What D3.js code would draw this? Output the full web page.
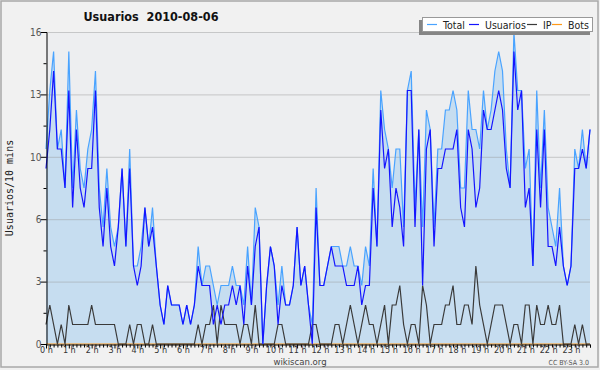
<!DOCTYPE html>
<html>
<head>
<meta charset="utf-8">
<script src="https://cdn.jsdelivr.net/npm/d3@7"></script>
<style>
  body { margin: 0; background: #f0f0f0; }
  text { font-family: "DejaVu Sans Condensed", "Liberation Sans", sans-serif; }
</style>
</head>
<body>
<svg id="chart" width="600" height="370"></svg>
<script>
// 10 minute slots, 144 per day
var total = [10,13,15,10,11,8,15,8,12,9,8,10,11,14,8,6,9,6,5,6,9,5,10,4,4,5,7,5,7,4,
  2,1,3,2,2,2,1,2,1,2,5,3,4,4,3,2,3,3,3,4,3,3,2,5,2,7,6,0,3,5,
  4,2,4,2,2,3,6,3,4,2,1,8,3,3,4,5,5,5,4,4,5,4,4,3,5,4,9,5,13,11,
  10,8,10,10,6,13,14,7,11,6,12,11,6,10,10,12,12,13,12,8,8,13,11,11,10,13,11,12,14,15,
  14,10,8,16,13,13,9,10,4,13,8,12,7,6,5,8,4,3,4,10,9,11,9,11];
var usuarios = [9,11,14,10,10,8,13,7,11,8,7,9,9,13,7,5,8,5,4,6,9,5,9,4,3,4,7,5,6,4,
  2,1,3,2,2,2,1,2,1,2,4,3,3,3,1,2,1,2,2,3,2,3,1,4,2,5,6,0,3,5,
  4,1,3,2,2,3,6,3,4,2,0,7,3,3,4,5,4,4,4,3,3,3,4,2,3,3,8,5,12,9,
  10,6,8,7,5,13,13,6,11,3,10,11,5,9,9,10,10,10,11,7,6,11,10,7,8,12,11,11,12,13,
  12,9,8,15,12,13,7,8,4,11,7,11,5,5,4,6,4,3,4,9,9,10,9,11];
var ip = [1,2,1,0,1,0,2,1,1,1,1,1,2,1,1,1,1,1,1,0,0,0,1,0,1,1,0,0,1,0,
  0,0,0,0,0,0,0,0,0,0,1,0,1,1,2,0,2,1,1,1,1,0,1,1,0,2,0,0,0,0,
  0,1,1,0,0,0,0,0,0,0,1,1,0,0,0,0,1,1,0,1,2,1,0,1,2,1,1,0,1,2,
  0,2,2,3,1,0,1,1,0,3,2,0,1,1,1,2,2,3,1,1,2,2,1,4,2,1,0,1,2,2,
  2,1,0,1,1,0,2,2,0,2,1,1,2,1,1,2,0,0,0,1,0,1,0,0];
var bots = [0,0,0,0,0,0,0,0,0,0,0,0,0,0,0,0,0,0,0,0,0,0,0,0,0,0,0,0,0,0,
  0,0,0,0,0,0,0,0,0,0,0,0,0,0,0,0,0,0,0,0,0,0,0,0,0,0,0,0,0,0,
  0,0,0,0,0,0,0,0,0,0,0,0,0,0,0,0,0,0,0,0,0,0,0,0,0,0,0,0,0,0,
  0,0,0,0,0,0,0,0,0,0,0,0,0,0,0,0,0,0,0,0,0,0,0,0,0,0,0,0,0,0,
  0,0,0,0,0,0,0,0,0,0,0,0,0,0,0,0,0,0,0,0,0,0,0,0];

var hourLabels = ["0 h","1 h","2 h","3 h","4 h","5 h","6 h","7 h","8 h","9 h","10 h","11 h",
  "12 h","13 h","14 h","15 h","16 h","17 h","18 h","19 h","20 h","21 h","22 h","23 h"];
var yTickValues = [0, 3.2, 6.4, 9.6, 12.8, 16];
var legendNames = ["Total", "Usuarios", "IP", "Bots"];
var legendColors = ["#49a3ff", "#1414ff", "#3a3a3a", "#ff9a1a"];

var svg = d3.select("#chart");
var plotLeft = 46, plotRight = 590, plotTop = 32, plotBottom = 344;

var x = d3.scaleLinear().domain([0, total.length - 1]).range([plotLeft, plotRight]);
var y = d3.scaleLinear().domain([0, 16]).range([plotBottom, plotTop]);

// outer frame
svg.append("rect").attr("x", 1).attr("y", 1).attr("width", 597).attr("height", 366)
  .attr("fill", "#f1f1f1").attr("stroke", "#a8a8a8").attr("stroke-width", 1.5);

// plot background
svg.append("rect").attr("x", plotLeft).attr("y", plotTop)
  .attr("width", plotRight - plotLeft).attr("height", plotBottom - plotTop)
  .attr("fill", "#edeef0");

// area under total
var area = d3.area().x(function (d, i) { return x(i); }).y0(y(0)).y1(function (d) { return y(d); });
svg.append("path").datum(total).attr("d", area).attr("fill", "#c6ddf0");

// horizontal grid
svg.append("g").selectAll("line").data(yTickValues.slice(1)).enter().append("line")
  .attr("x1", plotLeft).attr("x2", plotRight)
  .attr("y1", function (d) { return y(d) + 0.5; }).attr("y2", function (d) { return y(d) + 0.5; })
  .attr("stroke", "rgba(150,150,150,0.45)").attr("stroke-width", 1);

// series lines
var line = d3.line().x(function (d, i) { return x(i); }).y(function (d) { return y(d); });
[bots, ip, total, usuarios].forEach(function (s, k) {
  var col = [legendColors[3], legendColors[2], legendColors[0], legendColors[1]][k];
  svg.append("path").datum(s).attr("d", line)
    .attr("fill", "none").attr("stroke", col).attr("stroke-width", 1.2)
    .attr("stroke-linejoin", "miter");
});

// y axis
var yMinor = d3.range(0, 11).map(function (k) { return k * 1.6; });
var yAxis = d3.axisLeft(y).tickValues(yMinor).tickSize(3)
  .tickFormat(function (d, i) { return i % 2 === 0 ? d3.format(".0f")(d) : ""; });
var gy = svg.append("g").attr("transform", "translate(" + (plotLeft + 0.5) + ",0)").call(yAxis);
gy.select(".domain").attr("stroke", "#000");
gy.selectAll(".tick line").attr("stroke", "#000")
  .attr("x2", function (d, i) { return i % 2 === 0 ? -6 : -3; });
gy.selectAll(".tick text").attr("x", -5).attr("fill", "#555")
  .style("font-size", "10px").style("font-family", "'DejaVu Sans Condensed', 'Liberation Sans', sans-serif");

// x axis
var xAxis = d3.axisBottom(x).tickValues(d3.range(0, total.length)).tickSize(3)
  .tickFormat(function (d) { return d % 6 === 0 ? hourLabels[d / 6] : ""; });
var gx = svg.append("g").attr("transform", "translate(0," + (plotBottom + 0.5) + ")").call(xAxis);
gx.select(".domain").attr("stroke", "#000");
gx.selectAll(".tick line").attr("stroke", "#000")
  .attr("y2", function (d) { return d % 6 === 0 ? 4 : 3; });
gx.selectAll(".tick text").attr("y", 2.5).attr("fill", "#333")
  .style("font-size", "9px").style("font-family", "'DejaVu Sans Condensed', 'Liberation Sans', sans-serif");

// title
svg.append("text").attr("x", 151).attr("y", 21).attr("text-anchor", "middle")
  .style("font-size", "12.5px").style("font-weight", "bold").attr("fill", "#111")
  .style("white-space", "pre")
  .text("Usuarios  2010-08-06");

// y title
svg.append("text").attr("transform", "translate(13,188) rotate(-90)")
  .attr("text-anchor", "middle").attr("fill", "#222")
  .style("font-family", "'DejaVu Sans Mono', monospace").style("font-size", "10px")
  .text("Usuarios/10 mins");

// footer
svg.append("text").attr("x", 300).attr("y", 365).attr("text-anchor", "middle")
  .attr("fill", "#444").style("font-size", "9.5px").text("wikiscan.org");
svg.append("text").attr("x", 589).attr("y", 365).attr("text-anchor", "end")
  .attr("fill", "#555").style("font-size", "7px").text("CC BY-SA 3.0");

// legend with shadow
svg.append("rect").attr("x", 419).attr("y", 20).attr("width", 171).attr("height", 15).attr("fill", "#858585");
svg.append("rect").attr("x", 422.5).attr("y", 17.5).attr("width", 170).attr("height", 14)
  .attr("fill", "#fff").attr("stroke", "#999");
var legendX = [427, 469, 527, 552];
var legend = svg.selectAll(".legend").data(legendNames).enter().append("g")
  .attr("class", "legend")
  .attr("transform", function (d, i) { return "translate(" + legendX[i] + ",0)"; });
legend.append("line").attr("x1", 0).attr("x2", 10).attr("y1", 24.5).attr("y2", 24.5)
  .attr("stroke", function (d, i) { return legendColors[i]; }).attr("stroke-width", 1.2);
legend.append("text").attr("x", 16).attr("y", 28.5).attr("fill", "#222")
  .style("font-size", "10.5px").text(function (d) { return d; });
</script>
</body>
</html>
